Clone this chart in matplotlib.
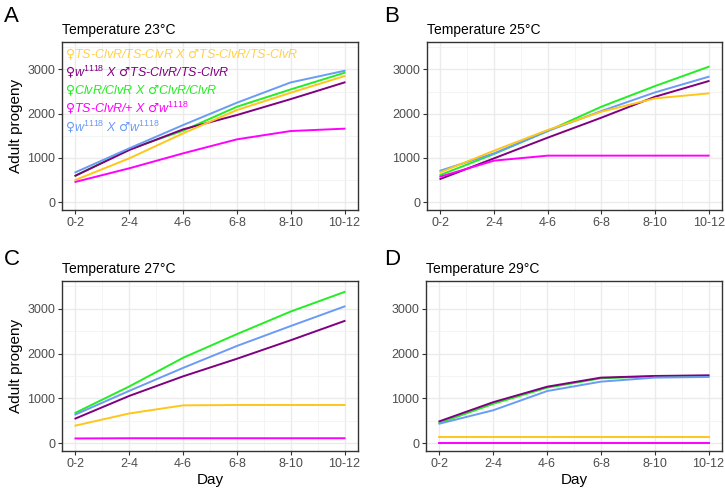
import matplotlib
matplotlib.use("Agg")
import matplotlib.pyplot as plt
from matplotlib.ticker import FixedLocator

plt.rcParams['font.family'] = ['Liberation Sans', 'DejaVu Sans']
plt.rcParams['mathtext.fontset'] = 'custom'
plt.rcParams['mathtext.it'] = 'Liberation Sans:italic'
plt.rcParams['mathtext.rm'] = 'Liberation Sans'
plt.rcParams['mathtext.sf'] = 'DejaVu Sans'
plt.rcParams['mathtext.default'] = 'it'

# データ
days = ["0-2", "2-4", "4-6", "6-8", "8-10", "10-12"]
temps = ["23", "25", "27", "29"]
panel_letters = ["A", "B", "C", "D"]

F = r"$\mathsf{♀}$"
M = r"$\mathsf{♂}$"
crosses = [
    F + "TS-ClvR/TS-ClvR X " + M + "TS-ClvR/TS-ClvR",
    F + "w$^{1118}$ X " + M + "TS-ClvR/TS-ClvR",
    F + "ClvR/ClvR X " + M + "ClvR/ClvR",
    F + "TS-ClvR/+ X " + M + "w$^{1118}$",
    F + "w$^{1118}$ X " + M + "w$^{1118}$",
]
colors = ["#FFC61A", "#800080", "#22EE22", "#FF00FF", "#6A9BF5"]

# 温度ごとの値 (列: 各交配)
ts_ts_23 = [504, 992, 1556, 2083, 2474, 2850]
w_ts_23 = [600, 1180, 1647, 1970, 2330, 2707]
clvr_23 = [600, 1200, 1617, 2158, 2549, 2925]
tsplus_23 = [460, 767, 1105, 1421, 1609, 1662]
w_w_23 = [677, 1218, 1744, 2248, 2707, 2970]

ts_ts_25 = [677, 1165, 1632, 2045, 2346, 2459]
w_ts_25 = [526, 992, 1459, 1910, 2383, 2737]
clvr_25 = [617, 1090, 1609, 2158, 2624, 3060]
tsplus_25 = [579, 940, 1053, 1053, 1053, 1053]
w_w_25 = [714, 1105, 1609, 2060, 2481, 2835]

ts_ts_27 = [392, 663, 844, 852, 852, 852]
w_ts_27 = [550, 1055, 1492, 1884, 2298, 2728]
clvr_27 = [678, 1266, 1906, 2434, 2939, 3376]
tsplus_27 = [105, 110, 110, 110, 110, 110]
w_w_27 = [640, 1168, 1680, 2170, 2615, 3052]

ts_ts_29 = [128, 128, 128, 128, 128, 128]
w_ts_29 = [488, 915, 1260, 1463, 1500, 1515]
clvr_29 = [450, 878, 1238, 1448, 1493, 1493]
tsplus_29 = [0, 0, 0, 0, 0, 0]
w_w_29 = [435, 735, 1163, 1373, 1463, 1478]

series = [
    [ts_ts_23, w_ts_23, clvr_23, tsplus_23, w_w_23],
    [ts_ts_25, w_ts_25, clvr_25, tsplus_25, w_w_25],
    [ts_ts_27, w_ts_27, clvr_27, tsplus_27, w_w_27],
    [ts_ts_29, w_ts_29, clvr_29, tsplus_29, w_w_29],
]

W, H = 725, 488
fig = plt.figure(figsize=(7.25, 4.88), dpi=100)

# パネル位置 (ピクセル: 左, 上, 右, 下)
boxes = [(62, 42, 358, 210), (427, 42, 722, 210),
         (62, 281, 358, 451), (426, 281, 722, 451)]
letter_pos = [(4, 22), (384, 22), (4, 265), (384, 265)]

x = list(range(1, len(days) + 1))

for i, (l, t, r, b) in enumerate(boxes):
    ax = fig.add_axes([l / W, 1 - b / H, (r - l) / W, (b - t) / H])
    # 描画順: 下の線が上に来ないように
    for j in [2, 1, 4, 0, 3]:
        ax.plot(x, series[i][j], color=colors[j], lw=1.4, zorder=3)
    ax.set_xlim(0.75, 6.25)
    ax.set_ylim(-175, 3620)
    ax.set_xticks(x)
    ax.set_xticklabels(days)
    ax.xaxis.set_minor_locator(FixedLocator([1.5, 2.5, 3.5, 4.5, 5.5]))
    ax.set_yticks([0, 1000, 2000, 3000])
    ax.yaxis.set_minor_locator(FixedLocator([500, 1500, 2500, 3500]))
    ax.grid(which='major', color='#EBEBEB', lw=1.0, zorder=0)
    ax.grid(which='minor', color='#F2F2F2', lw=0.6, zorder=0)
    ax.set_axisbelow(True)
    ax.tick_params(which='major', length=3, width=0.8, color='#333333',
                   labelsize=9, labelcolor='#4D4D4D', pad=2)
    ax.tick_params(which='minor', length=0)
    for s in ax.spines.values():
        s.set_color('#333333')
        s.set_linewidth(1.0)
    ax.set_title(f"Temperature {temps[i]}°C", loc='left', fontsize=10, pad=6)
    if i in (0, 2):
        ax.set_ylabel("Adult progeny", fontsize=11, labelpad=3)
    if i in (2, 3):
        ax.set_xlabel("Day", fontsize=11, labelpad=2)
    fig.text(letter_pos[i][0] / W, 1 - letter_pos[i][1] / H, panel_letters[i],
             fontsize=16, va='baseline', ha='left')

    if i == 0:
        ys = [54, 72, 90, 108, 127]
        for k, lab in enumerate(crosses):
            ax.text(65 / W, 1 - ys[k] / H, lab, transform=fig.transFigure,
                    color=colors[k], fontsize=9, style='italic',
                    va='center', ha='left', zorder=5,
                    alpha=0.8 if k == 0 else 1.0)

fig.savefig("out.png", dpi=100)
